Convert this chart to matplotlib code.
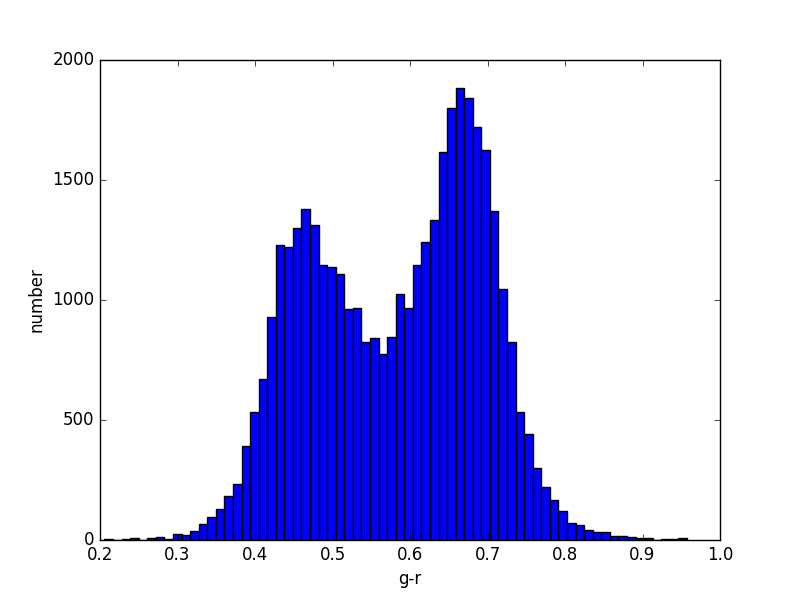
import numpy as np
import matplotlib
matplotlib.use("Agg")
import matplotlib.pyplot as plt

# histogram of g-r colour, 68 bins
bin_lo = 0.2058
bin_hi = 0.9573
counts = [
    3, 1, 5, 8, 1, 7, 12, 4, 25, 21,
    38, 65, 96, 129, 182, 233, 392, 533, 671, 931,
    1228, 1221, 1299, 1378, 1311, 1145, 1136, 1107, 962, 967,
    825, 840, 775, 846, 1025, 966, 1145, 1242, 1333, 1618,
    1799, 1883, 1840, 1721, 1625, 1371, 1046, 824, 533, 442,
    300, 221, 167, 121, 71, 63, 41, 32, 32, 18,
    17, 12, 8, 8, 1, 4, 4, 10,
]

plt.style.use("classic")

edges = np.linspace(bin_lo, bin_hi, len(counts) + 1)
widths = np.diff(edges)

fig, ax = plt.subplots(figsize=(8, 6), dpi=100)
fig.subplots_adjust(left=0.125, right=0.9, bottom=0.1, top=0.9)
ax.bar(edges[:-1], counts, width=widths, align="edge",
       color="b", edgecolor="k", linewidth=1.0)
ax.set_xlim(0.2, 1.0)
ax.set_ylim(0, 2000)
ax.set_xticks(np.arange(0.2, 1.01, 0.1))
ax.set_yticks(np.arange(0, 2001, 500))
ax.set_xlabel("g-r")
ax.set_ylabel("number")

fig.savefig("out.png", dpi=100)
